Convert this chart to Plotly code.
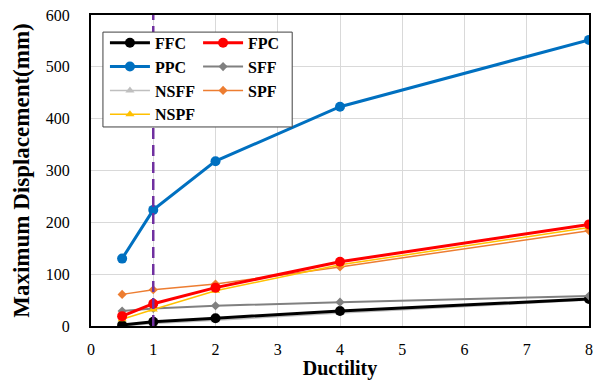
import plotly.graph_objects as go

ductility = [0.5, 1, 2, 4, 8]
ffc = [2, 8, 15, 29, 52]
fpc = [19, 43, 74, 124, 196]
ppc = [130, 224, 318, 423, 552]
sff = [29, 34, 39, 46, 58]
nsff = [0, 5, 11, 25, 50]
spf = [61, 70, 81, 114, 184]
nspf = [13, 32, 68, 118, 190]
ref_ductility = 1

FONT = "serif"

# name, values, color, symbol, marker size, line width, legend column
series = [
    ("FFC", ffc, "#000000", "circle", 10, 3, "legend"),
    ("PPC", ppc, "#0070C0", "circle", 10, 3, "legend"),
    ("NSFF", nsff, "#BFBFBF", "triangle-up", 8, 1.5, "legend"),
    ("NSPF", nspf, "#FFC000", "triangle-up", 8, 1.5, "legend"),
    ("FPC", fpc, "#FF0000", "circle", 10, 3, "legend2"),
    ("SFF", sff, "#808080", "diamond", 7, 2, "legend2"),
    ("SPF", spf, "#ED7D31", "diamond", 7, 1.5, "legend2"),
]
draw_order = ["NSFF", "FFC", "SFF", "SPF", "NSPF", "FPC", "PPC"]
lookup = {s[0]: s for s in series}
names = [s[0] for s in series]

fig = go.Figure()
for key in draw_order:
    name, vals, color, sym, size, lw, leg = lookup[key]
    fig.add_trace(go.Scatter(
        x=ductility, y=vals, name=name, mode="lines+markers",
        line=dict(color=color, width=lw),
        marker=dict(color=color, symbol=sym, size=size),
        legend=leg, legendrank=names.index(name),
    ))

fig.add_shape(type="line", x0=ref_ductility, x1=ref_ductility, y0=0, y1=600,
              xref="x", yref="y", line=dict(color="#7030A0", width=2.5, dash="11px,6px"),
              layer="above")
# legend box
fig.add_shape(type="rect", xref="paper", yref="paper",
              x0=0.024, x1=0.404, y0=0.64, y1=0.945,
              line=dict(color="#404040", width=1), fillcolor="white", layer="above")

legfont = dict(family=FONT, size=16, color="#000000", weight="bold")
fig.update_layout(
    width=602, height=380,
    margin=dict(l=91, r=13, t=15, b=54),
    paper_bgcolor="white", plot_bgcolor="white",
    font=dict(family=FONT, color="#000000"),
    showlegend=True,
    legend=dict(x=0.028, y=0.965, xanchor="left", yanchor="top",
                bgcolor="rgba(0,0,0,0)", borderwidth=0, font=legfont,
                itemwidth=40, tracegroupgap=0),
    legend2=dict(x=0.215, y=0.965, xanchor="left", yanchor="top",
                 bgcolor="rgba(0,0,0,0)", borderwidth=0, font=legfont,
                 itemwidth=40, tracegroupgap=0),
)
fig.update_xaxes(
    range=[0, 8], dtick=1, tick0=0, automargin=False,
    showgrid=True, gridcolor="#D9D9D9", gridwidth=1,
    showline=True, linecolor="black", linewidth=2, mirror=True,
    ticks="", zeroline=False, ticklabelstandoff=8,
    tickfont=dict(family=FONT, size=16, color="#000000"),
    title=dict(text="Ductility", font=dict(family=FONT, size=20, color="#000000", weight="bold"), standoff=9),
)
fig.update_yaxes(
    range=[0, 600], dtick=100, automargin=False,
    showgrid=True, gridcolor="#D9D9D9", gridwidth=1,
    showline=True, linecolor="black", linewidth=2, mirror=True,
    ticks="", zeroline=False, ticklabelstandoff=16,
    tickfont=dict(family=FONT, size=16, color="#000000"),
    title=dict(text="Maximum Displacement(mm)", font=dict(family=FONT, size=23, color="#000000", weight="bold"), standoff=10),
)

fig.write_html("out.html")
